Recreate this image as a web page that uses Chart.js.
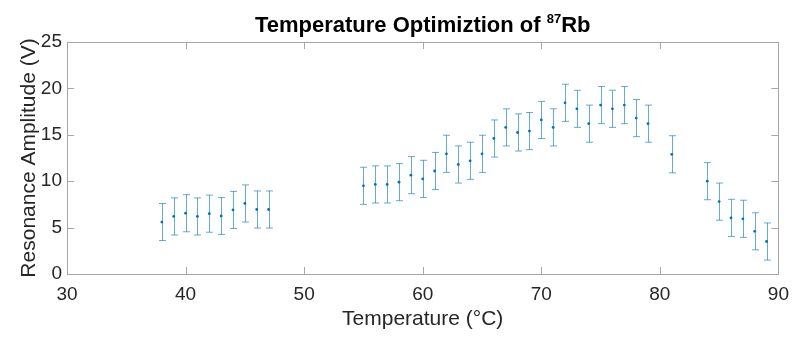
<!DOCTYPE html>
<html>
<head>
<meta charset="utf-8">
<script src="https://cdn.jsdelivr.net/npm/chart.js@4"></script>
<style>
  html, body { margin: 0; padding: 0; background: #fff; }
  #wrap { width: 798px; height: 337px; }
</style>
</head>
<body>
<div id="wrap"><canvas id="myChart" width="798" height="337"></canvas></div>
<script>
// temperature in deg C
const temps = [38, 39, 40, 41, 42, 43, 44, 45, 46, 47,
    55, 56, 57, 58, 59, 60, 61, 62, 63, 64, 65, 66, 67, 68, 69, 70,
    71, 72, 73, 74, 75, 76, 77, 78, 79, 81, 84, 85, 86, 87, 88, 89];
// resonance amplitude in V
const amps = [5.6, 6.2, 6.55, 6.2, 6.5, 6.25, 6.9, 7.6, 6.95, 6.95,
    9.5, 9.65, 9.65, 9.9, 10.65, 10.25, 11.1, 12.95, 11.8, 12.2, 12.95, 14.6, 15.8, 15.25, 15.4, 16.6,
    15.8, 18.45, 17.8, 16.2, 18.2, 17.8, 18.2, 16.8, 16.2, 12.9, 10.0, 7.8, 6.05, 5.95, 4.6, 3.5];
// error bar half-lengths in V
const errs = [2, 2, 2, 2, 2, 2, 2, 2, 2, 2,
    2, 2, 2, 2, 2, 2, 2, 2, 2, 2, 2, 2, 2, 2, 2, 2,
    2, 2, 2, 2, 2, 2, 2, 2, 2, 2, 2, 2, 2, 2, 2, 2];

const xTicks = [30, 40, 50, 60, 70, 80, 90];
const yTicks = [0, 5, 10, 15, 20, 25];

const fontFam = '"Liberation Sans", Arial, Helvetica, sans-serif';
const blue = '#0072BD';
const axisGray = '#a6a6a6';

const points = temps.map((t, i) => ({ x: t, y: amps[i] }));

// error bars, drawn through the chart scales
const errorBars = {
    id: 'errorBars',
    afterDatasetsDraw(chart) {
        const ctx = chart.ctx;
        const xs = chart.scales.x;
        const ys = chart.scales.y;
        ctx.save();
        ctx.strokeStyle = 'rgba(0,114,189,0.6)';
        ctx.lineWidth = 1;
        for (let i = 0; i < temps.length; i++) {
            let px = Math.round(xs.getPixelForValue(temps[i])) + 0.5;
            let top = ys.getPixelForValue(amps[i] + errs[i]);
            let bot = ys.getPixelForValue(amps[i] - errs[i]);
            ctx.beginPath();
            ctx.moveTo(px, top);
            ctx.lineTo(px, bot);
            ctx.moveTo(px - 3.5, top);
            ctx.lineTo(px + 3.5, top);
            ctx.moveTo(px - 3.5, bot);
            ctx.lineTo(px + 3.5, bot);
            ctx.stroke();
        }
        ctx.restore();
    }
};

// box round the axes with inward ticks on all four sides
const axesBox = {
    id: 'axesBox',
    afterDraw(chart) {
        const ctx = chart.ctx;
        const a = chart.chartArea;
        const xs = chart.scales.x;
        const ys = chart.scales.y;
        const len = 7;
        ctx.save();
        ctx.strokeStyle = axisGray;
        ctx.lineWidth = 1;
        ctx.strokeRect(Math.round(a.left) + 0.5, Math.round(a.top) + 0.5,
            Math.round(a.right - a.left), Math.round(a.bottom - a.top));
        ctx.beginPath();
        xTicks.forEach(v => {
            let px = Math.round(xs.getPixelForValue(v)) + 0.5;
            ctx.moveTo(px, a.bottom);
            ctx.lineTo(px, a.bottom - len);
            ctx.moveTo(px, a.top);
            ctx.lineTo(px, a.top + len);
        });
        yTicks.forEach(v => {
            let py = Math.round(ys.getPixelForValue(v)) + 0.5;
            ctx.moveTo(a.left, py);
            ctx.lineTo(a.left + len, py);
            ctx.moveTo(a.right, py);
            ctx.lineTo(a.right - len, py);
        });
        ctx.stroke();
        ctx.restore();
    }
};

// title with a superscript mass number
const titleSup = {
    id: 'titleSup',
    afterDraw(chart) {
        const ctx = chart.ctx;
        const a = chart.chartArea;
        const parts = [
            { text: 'Temperature Optimiztion of ', size: 22, rise: 0 },
            { text: '87', size: 13, rise: 9 },
            { text: 'Rb', size: 22, rise: 0 }
        ];
        ctx.save();
        ctx.fillStyle = '#000';
        ctx.textBaseline = 'alphabetic';
        ctx.textAlign = 'left';
        let total = 0;
        parts.forEach(p => {
            ctx.font = 'bold ' + p.size + 'px ' + fontFam;
            p.w = ctx.measureText(p.text).width;
            total += p.w;
        });
        let x = (a.left + a.right) / 2 - total / 2;
        parts.forEach(p => {
            ctx.font = 'bold ' + p.size + 'px ' + fontFam;
            ctx.fillText(p.text, x, 32 - p.rise);
            x += p.w;
        });
        ctx.restore();
    }
};

const ctx = document.getElementById('myChart').getContext('2d');
const myChart = new Chart(ctx, {
    type: 'scatter',
    data: {
        datasets: [{
            data: points,
            backgroundColor: blue,
            borderColor: blue,
            pointRadius: 1.4,
            pointHoverRadius: 1.4,
            borderWidth: 0,
            showLine: false
        }]
    },
    options: {
        responsive: false,
        animation: false,
        layout: {
            padding: { top: 42, right: 16, left: 0, bottom: 0 }
        },
        plugins: {
            legend: { display: false },
            tooltip: { enabled: false },
            title: { display: false }
        },
        scales: {
            x: {
                type: 'linear',
                min: 30,
                max: 90,
                afterFit: s => { s.height = 63; },
                afterBuildTicks: s => { s.ticks = xTicks.map(v => ({ value: v })); },
                grid: { display: false, drawTicks: false },
                border: { display: false },
                ticks: {
                    color: '#262626',
                    padding: 9,
                    font: { family: fontFam, size: 19 }
                },
                title: {
                    display: true,
                    text: 'Temperature (°C)',
                    color: '#262626',
                    padding: { top: 0, bottom: 5 },
                    font: { family: fontFam, size: 21 }
                }
            },
            y: {
                type: 'linear',
                min: 0,
                max: 25,
                afterFit: s => { s.width = 67; },
                afterBuildTicks: s => { s.ticks = yTicks.map(v => ({ value: v })); },
                grid: { display: false, drawTicks: false },
                border: { display: false },
                ticks: {
                    color: '#262626',
                    padding: 5,
                    font: { family: fontFam, size: 19 }
                },
                title: {
                    display: true,
                    text: 'Resonance Amplitude (V)',
                    color: '#262626',
                    padding: { top: 17, bottom: 0 },
                    font: { family: fontFam, size: 21 }
                }
            }
        }
    },
    plugins: [errorBars, axesBox, titleSup]
});
</script>
</body>
</html>
